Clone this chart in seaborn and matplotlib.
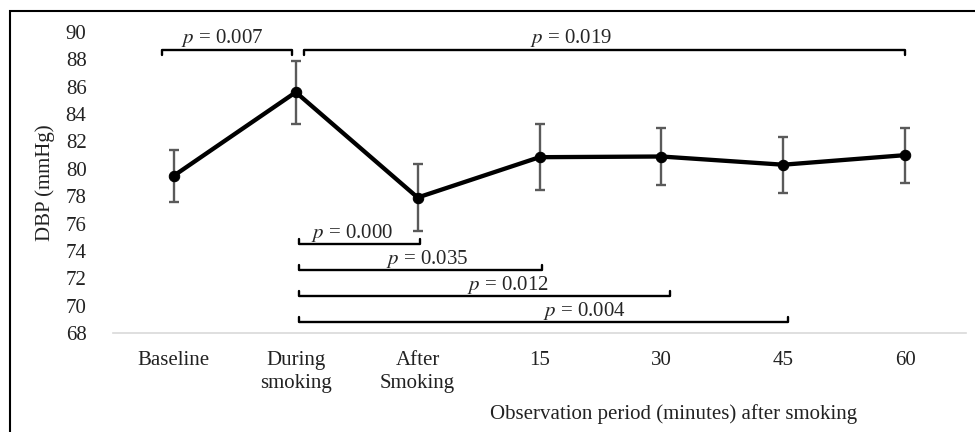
import numpy as np
import matplotlib
matplotlib.use("Agg")
import matplotlib.pyplot as plt
import seaborn as sns
from matplotlib.patches import Rectangle

# data
periods = ["Baseline", "During\nsmoking", "After\nSmoking", "15", "30", "45", "60"]
dbp_mean = [79.5, 85.6, 77.9, 80.85, 80.9, 80.3, 81.0]
dbp_sd = [1.9, 2.3, 2.45, 2.4, 2.1, 2.05, 2.0]

# comparison brackets: (start, end, level, label, label x)
top_brackets = [(-0.1, 0.97, 88.7, "0.007", 0.40),
                (1.07, 6.0, 88.7, "0.019", 3.26)]
low_brackets = [(1.03, 2.02, 74.5, "0.000", 1.46),
                (1.03, 3.02, 72.6, "0.035", 2.08),
                (1.03, 4.07, 70.7, "0.012", 2.74),
                (1.03, 5.04, 68.8, "0.004", 3.37)]

sns.set_style("white")
plt.rcParams["font.family"] = ["Liberation Serif", "DejaVu Serif"]
plt.rcParams["mathtext.fontset"] = "stix"
fs = 15

fig = plt.figure(figsize=(9.75, 4.32), dpi=100)
ax = fig.add_axes([113 / 975, 1 - 333 / 432, (966 - 113) / 975, (333 - 32) / 432])

xpos = np.arange(len(periods))
ax.errorbar(xpos, dbp_mean, yerr=dbp_sd, fmt="none", ecolor="#5a5a5a",
            elinewidth=1.7, capsize=3.5, capthick=1.7, zorder=2)
sns.lineplot(x=xpos, y=dbp_mean, ax=ax, color="black", linewidth=3.1,
             marker="o", markersize=7.5, markeredgecolor="black", zorder=3)

for x0, x1, y, p, tx in top_brackets:
    ax.plot([x0, x0, x1, x1], [y - 0.35, y, y, y - 0.35], color="black",
            lw=1.7, clip_on=False)
    ax.text(tx, y + 0.05, "$p$ = " + p, ha="center", va="bottom", fontsize=fs)

for x0, x1, y, p, tx in low_brackets:
    ax.plot([x0, x0, x1, x1], [y + 0.35, y, y, y + 0.35], color="black",
            lw=1.7, clip_on=False)
    ax.text(tx, y + 0.02, "$p$ = " + p, ha="center", va="bottom", fontsize=fs)

ax.set_xlim(-0.5, 6.5)
ax.set_ylim(68, 90)
ax.set_yticks(np.arange(68, 91, 2))
ax.set_xticks(xpos)
ax.set_xticklabels(periods, linespacing=1.25)
ax.tick_params(axis="both", length=0, labelsize=fs, colors="#222222")
ax.tick_params(axis="x", pad=13)
ax.tick_params(axis="y", pad=19)

for side in ["top", "right", "left"]:
    ax.spines[side].set_visible(False)
ax.spines["bottom"].set_color("#d9d9d9")
ax.spines["bottom"].set_linewidth(1.2)

ax.set_ylabel("DBP (mmHg)", fontsize=fs, color="#222222")
ax.yaxis.set_label_coords(-0.068, 0.5)
ax.set_xlabel("Observation period (minutes) after smoking", fontsize=fs, color="#222222")
ax.xaxis.set_label_coords((674 - 113) / (966 - 113), -0.235)

# outer frame (right and bottom edges cut off in the original)
fig.patches.append(Rectangle((10 / 975, -0.1), 1.2, 1 - 11 / 432 + 0.1,
                             transform=fig.transFigure, fill=False,
                             edgecolor="black", linewidth=1.5))

fig.savefig("out.png", dpi=100, facecolor="white")
